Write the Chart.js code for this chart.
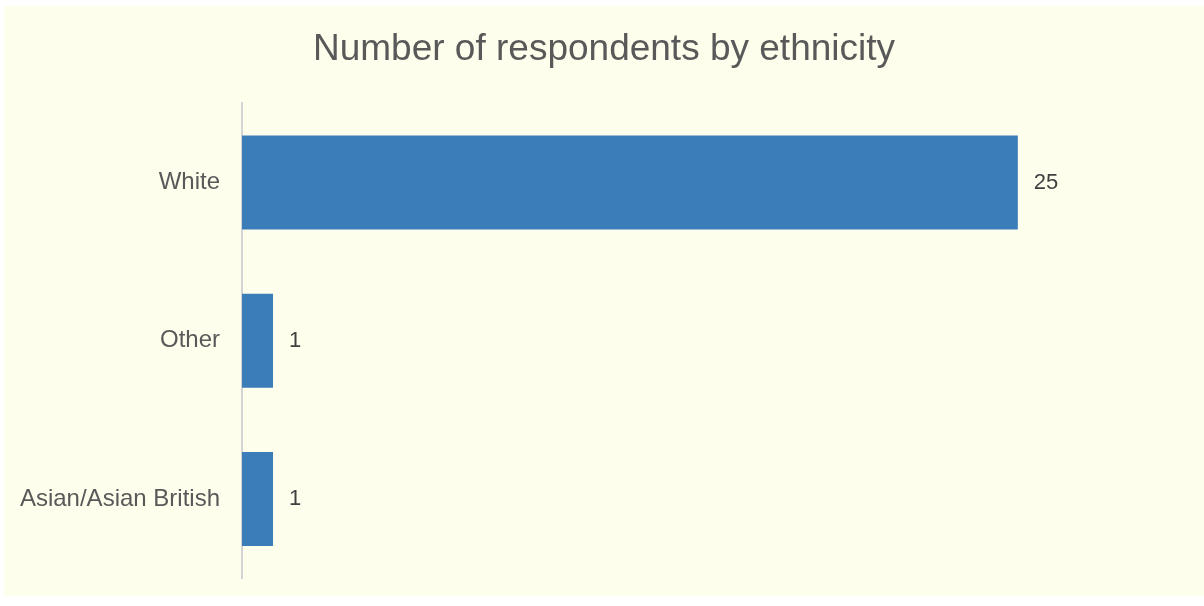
<!DOCTYPE html>
<html>
<head>
<meta charset="utf-8">
<script src="https://cdn.jsdelivr.net/npm/chart.js@4"></script>
<style>
  html, body { margin: 0; padding: 0; background: #ffffff; }
  #wrap { position: absolute; left: 4px; top: 6px; width: 1200px; height: 590px; background: #fefeec; }
</style>
</head>
<body>
<div id="wrap"><canvas id="chart" width="1200" height="590"></canvas></div>
<script>
/* data */
const categories = ['White', 'Other', 'Asian/Asian British'];
const respondents = [25, 1, 1];

const BAR_BLUE = '#3a7db8';

/* value labels to the right of each bar */
const valueLabels = {
  id: 'valueLabels',
  afterDatasetsDraw(chart) {
    const ctx = chart.ctx;
    const meta = chart.getDatasetMeta(0);
    ctx.save();
    ctx.font = '22px "Liberation Sans", Arial, sans-serif';
    ctx.fillStyle = '#404040';
    ctx.textAlign = 'left';
    ctx.textBaseline = 'middle';
    meta.data.forEach((bar, i) => {
      ctx.fillText(String(respondents[i]), bar.x + 16, bar.y);
    });
    ctx.restore();
  }
};

Chart.defaults.font.family = '"Liberation Sans", Arial, sans-serif';

new Chart(document.getElementById('chart').getContext('2d'), {
  type: 'bar',
  data: {
    labels: categories,
    datasets: [{
      data: respondents,
      backgroundColor: BAR_BLUE,
      borderWidth: 0,
      barPercentage: 0.594,
      categoryPercentage: 1.0,
    }],
  },
  options: {
    indexAxis: 'y',
    responsive: false,
    animation: false,
    layout: { padding: { left: 0, right: 0, top: 0, bottom: 18 } },
    plugins: {
      legend: { display: false },
      tooltip: { enabled: false },
      title: {
        display: true,
        text: 'Number of respondents by ethnicity',
        color: '#595959',
        font: { size: 37, weight: 'normal' },
        padding: { top: 22, bottom: 31 },
      },
    },
    scales: {
      x: { display: false, min: 0, max: 31 },
      y: {
        // fixed label column; drop the label overhang padding so the axis runs full height
        afterFit(scale) {
          scale.width = 238;
          scale.paddingTop = 0;
          scale.paddingBottom = 0;
        },
        grid: { display: false, drawTicks: false },
        border: { display: true, color: '#d4d4d4', width: 2 },
        ticks: { color: '#595959', font: { size: 24 }, padding: 22 },
      },
    },
  },
  plugins: [valueLabels],
});
</script>
</body>
</html>
